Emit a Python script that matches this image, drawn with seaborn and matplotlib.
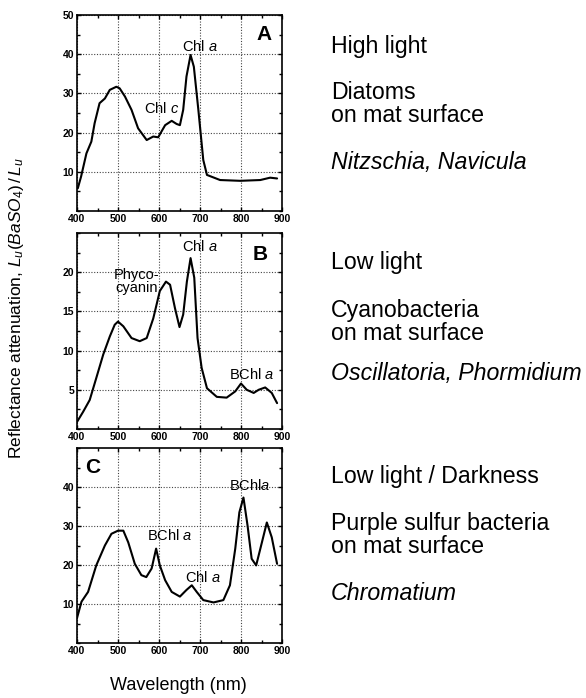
import numpy as np
import pandas as pd
import matplotlib
matplotlib.use("Agg")
import matplotlib.pyplot as plt
import seaborn as sns
from matplotlib.ticker import MultipleLocator, FixedLocator

# ---------------- data ----------------
wl_a = [402, 410, 423, 435, 443, 455, 468, 480, 496, 504, 517, 533, 549, 570, 586, 598,
        615, 631, 643, 651, 659, 667, 677, 685, 696, 708, 717, 749, 798, 847, 871, 888]
val_a = [5.8, 8.8, 14.7, 17.7, 22.4, 27.5, 28.7, 30.9, 31.7, 31.3, 29.2, 25.8, 21.1, 18.1, 19.0, 18.8,
         21.9, 23.0, 22.2, 21.9, 25.8, 34.3, 39.8, 36.8, 25.8, 13.0, 9.2, 7.9, 7.7, 7.9, 8.5, 8.3]

wl_b = [400, 415, 431, 447, 464, 480, 492, 500, 513, 533, 553, 570, 586, 602, 617, 627, 639,
        650, 659, 668, 677, 686, 694, 704, 717, 741, 765, 786, 800, 814, 831, 843, 859, 875, 888]
val_b = [0.9, 2.2, 3.7, 6.5, 9.5, 11.8, 13.3, 13.7, 13.1, 11.6, 11.2, 11.6, 14.1, 17.6, 18.8, 18.4, 15.4,
         13.0, 14.6, 18.8, 21.8, 19.3, 11.6, 7.8, 5.2, 4.1, 4.0, 4.8, 5.8, 5.0, 4.6, 5.0, 5.3, 4.6, 3.3]

wl_c = [400, 411, 427, 447, 468, 484, 500, 513, 525, 541, 557, 569, 582, 593, 602, 615, 631,
        651, 667, 680, 692, 708, 733, 757, 773, 786, 796, 806, 816, 826, 837, 851, 863, 875, 888]
val_c = [6.4, 10.6, 13.1, 19.9, 25.0, 28.0, 28.8, 28.8, 25.8, 20.3, 17.4, 16.9, 19.1, 24.2, 19.9, 16.1, 13.1,
         11.9, 13.6, 14.8, 13.1, 11.0, 10.4, 11.0, 14.8, 24.2, 33.5, 37.3, 30.1, 21.6, 19.9, 25.8, 30.9, 27.1, 20.3]

x_ticks = [400, 500, 600, 700, 800, 900]
y_ticks_a = [10, 20, 30, 40, 50]
y_ticks_b = [5, 10, 15, 20]
y_ticks_c = [10, 20, 30, 40]

panel_letters = ["A", "B", "C"]
right_texts = [
    ["High light", "Diatoms\non mat surface", "Nitzschia, Navicula"],
    ["Low light", "Cyanobacteria\non mat surface", "Oscillatoria, Phormidium"],
    ["Low light / Darkness", "Purple sulfur bacteria\non mat surface", "Chromatium"],
]

# ---------------- style ----------------
sns.set_style("ticks")
plt.rcParams["font.family"] = ["Liberation Sans", "DejaVu Sans"]
plt.rcParams["mathtext.fontset"] = "custom"
plt.rcParams["mathtext.rm"] = "Liberation Sans"
plt.rcParams["mathtext.it"] = "Liberation Sans:italic"
for k in ["text.color", "axes.labelcolor", "xtick.color", "ytick.color", "axes.edgecolor"]:
    plt.rcParams[k] = "black"

W, H = 586, 698
fig = plt.figure(figsize=(W / 100, H / 100), dpi=100)

left = 77 / W
width = 205 / W
boxes = [(15, 211), (233, 429), (448, 643)]

datasets = [
    (wl_a, val_a, (0, 50), y_ticks_a, 5),
    (wl_b, val_b, (0, 25), y_ticks_b, 2.5),
    (wl_c, val_c, (0, 50), y_ticks_c, 5),
]

axes = []
for (top, bot), (wl, val, ylim, yt, ymin) in zip(boxes, datasets):
    ax = fig.add_axes([left, 1 - bot / H, width, (bot - top) / H])
    df = pd.DataFrame({"wl": wl, "val": val})
    sns.lineplot(data=df, x="wl", y="val", ax=ax, color="black", lw=1.5)
    ax.set_xlim(400, 900)
    ax.set_ylim(*ylim)
    ax.xaxis.set_major_locator(FixedLocator(x_ticks))
    ax.xaxis.set_minor_locator(MultipleLocator(50))
    ax.yaxis.set_major_locator(FixedLocator(yt))
    ax.yaxis.set_minor_locator(MultipleLocator(ymin))
    ax.grid(True, which="major", ls=(0, (1, 1.5)), color="#444444", lw=0.8)
    ax.tick_params(which="both", direction="in", top=True, right=True, width=1)
    ax.tick_params(which="major", length=3, labelsize=7.5, pad=2)
    ax.tick_params(which="minor", length=2)
    for lab in ax.get_xticklabels() + ax.get_yticklabels():
        lab.set_fontweight("bold")
    for s in ax.spines.values():
        s.set_linewidth(1.2)
    ax.set_xlabel("")
    ax.set_ylabel("")
    axes.append(ax)

ax_a, ax_b, ax_c = axes
fs = 10.5
ax_a.text(700, 42, "Chl $\\it{a}$", ha="center", va="center", fontsize=fs)
ax_a.text(606, 26.2, "Chl $\\it{c}$", ha="center", va="center", fontsize=fs)
ax_a.text(855, 45, panel_letters[0], ha="center", va="center", fontsize=15, fontweight="bold")

ax_b.text(700, 23.3, "Chl $\\it{a}$", ha="center", va="center", fontsize=fs)
ax_b.text(545, 18.8, "Phyco-\ncyanin", ha="center", va="center", fontsize=fs, linespacing=0.95)
ax_b.text(847, 22.2, panel_letters[1], ha="center", va="center", fontsize=15, fontweight="bold")
ax_b.text(827, 6.9, "BChl $\\it{a}$", ha="center", va="center", fontsize=fs)

ax_c.text(439, 45, panel_letters[2], ha="center", va="center", fontsize=15, fontweight="bold")
ax_c.text(822, 40.3, "BChl$\\it{a}$", ha="center", va="center", fontsize=fs)
ax_c.text(627, 27.5, "BChl $\\it{a}$", ha="center", va="center", fontsize=fs)
ax_c.text(708, 16.9, "Chl $\\it{a}$", ha="center", va="center", fontsize=fs)

fig.text(17 / W, 1 - 308 / H, r"Reflectance attenuation, $L_u(BaSO_4)\,/\,L_u$",
         rotation=90, ha="center", va="center", fontsize=12.5)
fig.text(178 / W, 1 - 685 / H, "Wavelength (nm)", ha="center", va="center", fontsize=13)

tx = 331 / W
ys = [[47, 104, 162], [263, 322, 373], [477, 535, 593]]
for texts, yy in zip(right_texts, ys):
    for i, (t, y) in enumerate(zip(texts, yy)):
        fig.text(tx, 1 - y / H, t, ha="left", va="center", fontsize=16.7,
                 style="italic" if i == 2 else "normal", linespacing=0.95)

fig.savefig("out.png", dpi=100)
